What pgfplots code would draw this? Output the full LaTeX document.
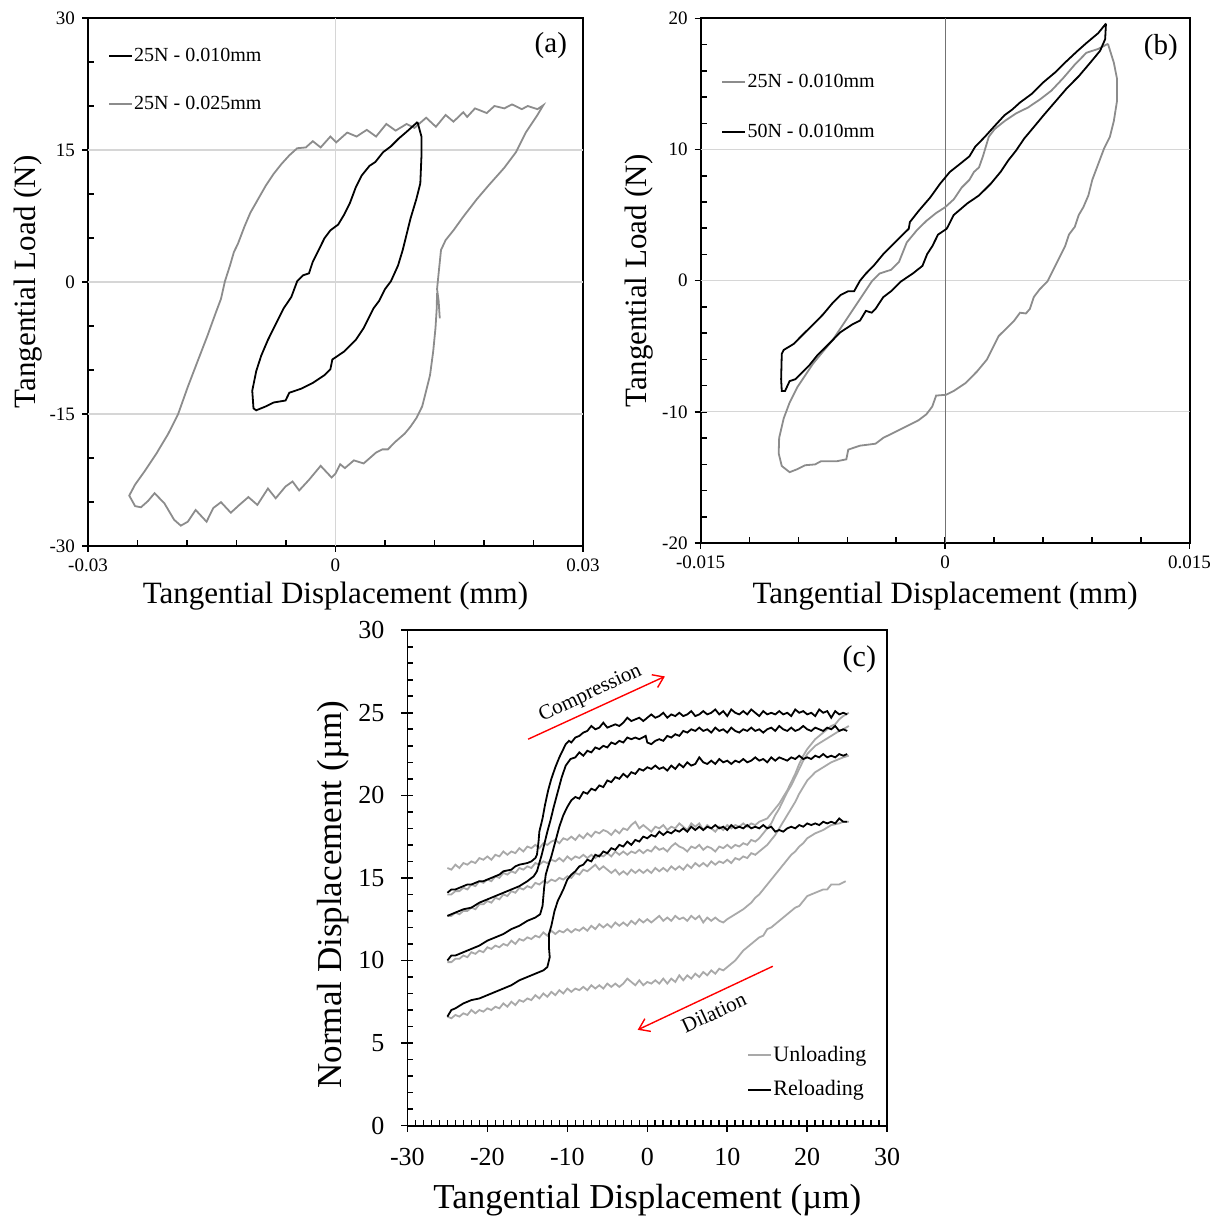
\documentclass[border=0pt]{standalone}
\usepackage{fontspec}
\setmainfont{Liberation Serif}
\usepackage{pgfplots}
\pgfplotsset{compat=1.18}
\usetikzlibrary{arrows.meta}
\definecolor{ga}{HTML}{8C8C8C}
\definecolor{gc}{HTML}{A9A9A9}
\definecolor{gridc}{HTML}{D6D6D6}
\pgfplotsset{
  common/.style={
    scale only axis,
    axis line style={line width=0.9pt},
    tick pos=left,
    tick align=center,
    major tick length=6pt,
    minor tick length=3pt,
    tick style={black, line width=0.8pt},
    minor x tick style={yshift=1.5pt},
    minor y tick style={xshift=1.5pt},
    /pgf/number format/assume math mode=true,
    scaled ticks=false,
    legend cell align=left,
    legend image code/.code={\draw[#1] (0pt,0pt) -- (11.5pt,0pt);},
  }
}
\begin{document}
\begin{tikzpicture}
\useasboundingbox (0,0) rectangle (610pt,610.5pt);
% ---------------- (a)
\begin{axis}[common,
  at={(44pt,337.5pt)}, anchor=south west,
  width=247.5pt, height=264pt,
  xmin=-0.03, xmax=0.03, ymin=-30, ymax=30,
  xtick={-0.03,0,0.03}, xticklabels={-0.03,0,0.03},
  ytick={-30,-15,0,15,30}, yticklabels={-30,-15,0,15,30},
  minor x tick num=4, minor y tick num=2,
  ticklabel style={font=\fontsize{9.5}{11}\selectfont},
  xlabel={Tangential Displacement (mm)},
  ylabel={Tangential Load (N)},
  label style={font=\fontsize{15.5}{18}\selectfont},
  xlabel style={at={(axis description cs:0.5,-0.095)}, anchor=center},
  ylabel style={at={(axis description cs:-0.121,0.5)}, anchor=center},
  legend style={at={(axis description cs:0.04,0.946)}, anchor=north west, draw=none, fill=none,
    font=\fontsize{10}{12}\selectfont, row sep=14.5pt, inner sep=0pt, nodes={inner sep=0.6pt}},
]
\draw[gridc, line width=0.6pt] (axis cs:-0.03,15) -- (axis cs:0.03,15);
\draw[gridc, line width=0.6pt] (axis cs:-0.03,0) -- (axis cs:0.03,0);
\draw[gridc, line width=0.6pt] (axis cs:-0.03,-15) -- (axis cs:0.03,-15);
\draw[gridc, line width=0.6pt] (axis cs:0,-30) -- (axis cs:0,30);
\addlegendimage{black, line width=0.9pt}
\addlegendentry{25N - 0.010mm}
\addlegendimage{ga, line width=0.9pt}
\addlegendentry{25N - 0.025mm}
\addplot[ga, line width=0.9pt, forget plot] coordinates {
(0.01264,-4.13) (0.0125,-2.13) (0.01231,-0.8) (0.0125,0.98) (0.01279,3.64) (0.01335,4.76)
(0.0143,5.87) (0.01549,7.42) (0.01714,9.42) (0.01856,10.98) (0.02046,12.98) (0.02188,14.76)
(0.02306,16.98) (0.02448,18.98) (0.02519,20.09)
(0.02448,19.64) (0.0233,20.0) (0.02259,19.64) (0.0214,20.18) (0.02046,19.73) (0.01927,20.0)
(0.01833,19.2) (0.01691,19.73) (0.01596,18.76) (0.01549,19.29) (0.0143,18.22) (0.01335,18.98)
(0.01217,17.64) (0.01099,18.67) (0.00957,17.51) (0.00862,17.96) (0.00729,17.2) (0.00616,17.96)
(0.00492,16.53) (0.00379,17.29) (0.00256,16.53) (0.00142,16.98) (0.00009,15.87) (-0.00062,16.53)
(-0.0018,15.29) (-0.00275,16.0) (-0.0036,15.29) (-0.00464,15.2) (-0.00559,14.4) (-0.00654,13.42)
(-0.00748,12.31) (-0.00843,10.98) (-0.00938,9.42) (-0.01032,7.87) (-0.01103,6.31) (-0.01184,4.31)
(-0.01231,3.42) (-0.01279,1.87) (-0.0134,0.09) (-0.01388,-1.91) (-0.01459,-3.69) (-0.01553,-6.13)
(-0.01672,-9.02) (-0.0179,-11.91) (-0.01908,-15.02) (-0.02027,-17.24) (-0.02169,-19.47)
(-0.02311,-21.47) (-0.02429,-23.02) (-0.025,-24.27)
(-0.02429,-25.47) (-0.02358,-25.6) (-0.02273,-24.89) (-0.02193,-24.0) (-0.02074,-25.15)
(-0.01956,-27.02) (-0.01875,-27.69) (-0.0179,-27.24) (-0.01695,-25.91) (-0.01563,-27.24)
(-0.01482,-25.69) (-0.01388,-25.02) (-0.01269,-26.22) (-0.01165,-25.33) (-0.01056,-24.44)
(-0.00947,-25.33) (-0.00819,-23.47) (-0.00725,-24.58) (-0.00606,-23.24) (-0.00521,-22.67)
(-0.0044,-23.69) (-0.00322,-22.49) (-0.0018,-20.89) (-0.00047,-22.22) (0,-21.78) (0.00057,-20.71)
(0.00114,-21.15) (0.00223,-20.27) (0.00341,-20.62) (0.00492,-19.38) (0.00568,-19.02)
(0.00635,-19.02) (0.00729,-18.13) (0.00838,-17.24) (0.00909,-16.44) (0.0098,-15.47)
(0.01051,-14.13) (0.01099,-12.36) (0.01146,-10.58) (0.01184,-7.91) (0.01212,-5.24)
(0.01227,-3.02) (0.01231,-1.24)
};
\addplot[black, line width=0.9pt, forget plot] coordinates {
(0.00994,18.18) (0.01042,16.53) (0.01042,14.31) (0.01028,11.2) (0.0098,9.42) (0.00909,7.2)
(0.00862,5.42) (0.00815,3.64) (0.00758,1.87) (0.00672,0.09) (0.00601,-0.8) (0.0053,-2.13)
(0.00459,-3.02) (0.00388,-4.36) (0.00341,-5.24) (0.00246,-6.58) (0.00104,-7.91) (-0.00038,-8.8)
(-0.00062,-9.91) (-0.00133,-10.58) (-0.00275,-11.47) (-0.00417,-12.13) (-0.00559,-12.58)
(-0.00606,-13.47) (-0.00748,-13.69) (-0.00843,-14.13) (-0.00961,-14.58) (-0.00994,-14.36)
(-0.01009,-12.36) (-0.00961,-10.13) (-0.009,-8.36) (-0.00819,-6.58) (-0.00725,-4.8)
(-0.0063,-3.02) (-0.00535,-1.69) (-0.00464,0.09) (-0.00393,0.76) (-0.00322,0.98) (-0.00275,2.31)
(-0.00204,3.64) (-0.00133,4.98) (-0.00062,5.87) (0.00033,6.53) (0.00104,7.64) (0.00175,8.98)
(0.00246,10.76) (0.00317,12.09) (0.00412,13.2) (0.00483,13.64) (0.00578,14.76) (0.00672,15.42)
(0.00767,16.31) (0.00862,17.07) (0.00994,18.18)
};
\node[font=\fontsize{14.5}{16}\selectfont] at (axis description cs:0.935,0.947) {(a)};
\end{axis}
% ---------------- (b)
\begin{axis}[common,
  at={(350.3pt,339pt)}, anchor=south west,
  width=244.5pt, height=262.3pt,
  xmin=-0.015, xmax=0.015, ymin=-20, ymax=20,
  xtick={-0.015,0,0.015}, xticklabels={-0.015,0,0.015},
  ytick={-20,-10,0,10,20}, yticklabels={-20,-10,0,10,20},
  minor x tick num=4, minor y tick num=4,
  ticklabel style={font=\fontsize{9.5}{11}\selectfont},
  xlabel={Tangential Displacement (mm)},
  ylabel={Tangential Load (N)},
  label style={font=\fontsize{15.5}{18}\selectfont},
  xlabel style={at={(axis description cs:0.5,-0.101)}, anchor=center},
  ylabel style={at={(axis description cs:-0.126,0.5)}, anchor=center},
  legend style={at={(axis description cs:0.042,0.897)}, anchor=north west, draw=none, fill=none,
    font=\fontsize{10}{12}\selectfont, row sep=15.5pt, inner sep=0pt, nodes={inner sep=0.6pt}},
]
\draw[gridc, line width=0.6pt] (axis cs:-0.015,10) -- (axis cs:0.015,10);
\draw[gridc, line width=0.6pt] (axis cs:-0.015,0) -- (axis cs:0.015,0);
\draw[gridc, line width=0.6pt] (axis cs:-0.015,-10) -- (axis cs:0.015,-10);
\draw[black!55, line width=0.6pt] (axis cs:0,-20) -- (axis cs:0,20);
\addlegendimage{ga, line width=0.9pt}
\addlegendentry{25N - 0.010mm}
\addlegendimage{black, line width=0.9pt}
\addlegendentry{50N - 0.010mm}
\addplot[ga, line width=0.9pt, forget plot] coordinates {
(0.00999,18.06) (0.01035,16.63) (0.01054,15.44) (0.01054,13.65) (0.01035,12.16) (0.01011,10.97)
(0.00975,10.07) (0.00939,8.88) (0.00903,7.69) (0.00879,6.5) (0.00848,5.6) (0.0082,5.01)
(0.00796,4.11) (0.0076,3.52) (0.00736,2.62) (0.007,1.73) (0.00664,0.83) (0.00628,-0.06)
(0.0058,-0.66) (0.00544,-1.25) (0.0052,-2.15) (0.00496,-2.5) (0.0046,-2.44) (0.00424,-3.04)
(0.00376,-3.64) (0.00328,-4.23) (0.00304,-4.83) (0.00256,-6.02) (0.00196,-6.92) (0.00125,-7.81)
(0.00053,-8.41) (0.00005,-8.7) (-0.00055,-8.76) (-0.00079,-9.6) (-0.00115,-10.19) (-0.00163,-10.64)
(-0.00235,-11.09) (-0.00307,-11.54) (-0.00379,-11.98) (-0.00427,-12.43) (-0.00522,-12.58)
(-0.00594,-12.88) (-0.00606,-13.62) (-0.00666,-13.77) (-0.00762,-13.77) (-0.00798,-14.01)
(-0.00858,-14.07) (-0.00906,-14.37) (-0.00954,-14.6) (-0.01002,-14.13) (-0.01021,-13.17)
(-0.01018,-11.98) (-0.0099,-10.49) (-0.00954,-9.3) (-0.00906,-8.11) (-0.00858,-7.21)
(-0.0081,-6.32) (-0.0075,-5.42) (-0.0069,-4.53) (-0.00642,-3.64) (-0.00594,-2.74) (-0.00546,-1.85)
(-0.00498,-0.95) (-0.0045,-0.06) (-0.00403,0.54) (-0.00367,0.69) (-0.00331,0.83) (-0.00283,1.43)
(-0.00235,2.92) (-0.00175,3.82) (-0.00115,4.56) (-0.00055,5.16) (0,5.6) (0.00053,6.2)
(0.00101,7.09) (0.00149,7.69) (0.00177,8.29) (0.00208,8.64) (0.00232,9.48) (0.00268,10.97)
(0.00304,11.56) (0.00364,12.16) (0.00436,12.76) (0.00508,13.2) (0.0058,13.8) (0.00652,14.49)
(0.00724,15.44) (0.00796,16.48) (0.00867,17.38) (0.00939,17.67) (0.00999,18.06)
};
\addplot[black, line width=0.9pt, forget plot] coordinates {
(0.00987,19.61) (0.00982,18.42) (0.00951,17.53) (0.00891,16.63) (0.0082,15.59) (0.00748,14.69)
(0.00676,13.65) (0.00604,12.61) (0.00544,11.71) (0.00484,10.82) (0.00436,9.93) (0.00388,9.18)
(0.0034,8.29) (0.0028,7.39) (0.00208,6.5) (0.00137,5.9) (0.00053,5.01) (0.0001,3.96)
(-0.00043,3.52) (-0.00079,2.62) (-0.0011,2.03) (-0.00139,1.13) (-0.00199,0.54) (-0.00271,-0.06)
(-0.00331,-0.8) (-0.00379,-1.25) (-0.00427,-2.15) (-0.0045,-2.44) (-0.00486,-2.3) (-0.00522,-3.04)
(-0.0057,-3.34) (-0.00642,-3.93) (-0.00714,-4.83) (-0.00786,-5.72) (-0.00834,-6.47)
(-0.00894,-7.21) (-0.00918,-7.51) (-0.00954,-7.66) (-0.00982,-8.41) (-0.01002,-8.41)
(-0.01006,-7.51) (-0.01002,-5.57) (-0.0099,-5.28) (-0.0093,-4.83) (-0.0087,-4.08) (-0.0081,-3.34)
(-0.0075,-2.59) (-0.0069,-1.7) (-0.00642,-1.1) (-0.00594,-0.8) (-0.00558,-0.8) (-0.00522,0)
(-0.00486,0.54) (-0.00439,1.13) (-0.00379,2.03) (-0.00319,2.77) (-0.00259,3.52) (-0.00223,3.96)
(-0.00216,4.47) (-0.00163,5.31) (-0.00091,6.35) (-0.00031,7.39) (0.00029,8.29) (0.00089,8.88)
(0.00149,9.48) (0.00185,10.22) (0.00244,10.97) (0.00304,11.8) (0.00364,12.61) (0.00412,13.05)
(0.0046,13.59) (0.00532,14.25) (0.00604,15.14) (0.00676,15.89) (0.00736,16.63) (0.00808,17.47)
(0.00867,18.12) (0.00939,18.87) (0.00987,19.61)
};
\node[font=\fontsize{14.5}{16}\selectfont] at (axis description cs:0.941,0.945) {(b)};
\end{axis}
% ---------------- (c)
\begin{axis}[common,
  at={(203.7pt,47.7pt)}, anchor=south west,
  width=239.9pt, height=247.7pt,
  xmin=-30, xmax=30, ymin=0, ymax=30,
  xtick={-30,-20,-10,0,10,20,30}, xticklabels={-30,-20,-10,0,10,20,30},
  ytick={0,5,10,15,20,25,30}, yticklabels={0,5,10,15,20,25,30},
  minor x tick num=9, minor y tick num=4,
  ticklabel style={font=\fontsize{13}{15}\selectfont},
  xticklabel style={yshift=-5pt},
  yticklabel style={xshift=-5pt},
  xlabel={Tangential Displacement (µm)},
  ylabel={Normal Displacement (µm)},
  label style={font=\fontsize{17.5}{20}\selectfont},
  xlabel style={at={(axis description cs:0.5,-0.150)}, anchor=center},
  ylabel style={at={(axis description cs:-0.155,0.466)}, anchor=center},
  legend style={at={(axis description cs:0.708,0.164)}, anchor=north west, draw=none, fill=none,
    font=\fontsize{11}{13}\selectfont, row sep=7pt, inner sep=0pt, nodes={inner sep=0.6pt}},
]
\addlegendimage{gc, line width=0.9pt}
\addlegendentry{Unloading}
\addlegendimage{black, line width=0.9pt}
\addlegendentry{Reloading}
% unloading (gray)
\addplot[gc, line width=0.9pt, forget plot] coordinates {
(25.2,25.0) (24.5,24.8) (24,24.6) (23.5,24.3) (23,24.2) (22,23.8) (21,23.4) (20,22.8) (19.5,22.4)
(19,21.9) (18.5,21.3) (18,20.8) (17.5,20.3) (17,19.9) (16.5,19.5) (16,19.2) (15.5,18.9) (15,18.6)
(14,18.4) (13.5,18.2) (13,18.3) (12.5,18.1) (12,18.3) (11.5,18.1) (11,18.2) (10.5,18.0) (10,18.2)
(9.5,17.9) (9,18.1) (8.5,17.8) (8,18.0) (7.5,18.2) (7,17.9) (6.5,18.3) (6,18.1) (5.5,18.3)
(5,17.9) (4.5,18.1) (4,18.3) (3.5,18.0) (3,18.1) (2.5,17.9) (2,18.2) (1.5,18.0) (1,18.1)
(0.5,17.8) (0,18.0) (-0.5,18.2) (-1,18.0) (-1.5,18.4) (-2,18.2) (-2.5,17.9) (-3,18.0) (-3.5,17.7)
(-4,17.9) (-4.5,17.6) (-5,17.8) (-5.5,17.9) (-6,17.7) (-6.5,17.8) (-7,17.5) (-7.5,17.7) (-8,17.4)
(-8.5,17.6) (-9,17.3) (-9.5,17.5) (-10,17.3) (-10.5,17.4) (-11,17.1) (-11.5,17.3) (-12,17.2)
(-12.5,17.0) (-13,17.1) (-13.5,16.8) (-14,17.0) (-14.5,16.8) (-15,16.9) (-15.5,16.6) (-16,16.8)
(-16.5,16.5) (-17,16.6) (-17.5,16.4) (-18,16.6) (-18.5,16.3) (-19,16.4) (-19.5,16.1) (-20,16.3)
(-20.5,16.1) (-21,16.2) (-21.5,15.9) (-22,16.0) (-22.5,15.8) (-23,15.9) (-23.5,15.6) (-24,15.8)
(-24.5,15.5) (-25,15.6)
};
\addplot[gc, line width=0.9pt, forget plot] coordinates {
(25.2,24.2) (24.5,24.0) (24,23.9) (23,23.6) (22,23.3) (21,23.0) (20,22.5) (19.5,22.1) (19,21.6)
(18.5,21.1) (18,20.6) (17.5,20.2) (17,19.7) (16.5,19.2) (16,18.8) (15.5,18.3) (15,18.0)
(14.5,17.7) (14,17.4) (13.5,17.2) (13,17.3) (12.5,17.0) (12,17.1) (11.5,16.9) (11,17.0)
(10.5,16.8) (10,17.0) (9.5,16.8) (9,16.9) (8.5,16.6) (8,16.8) (7.5,16.9) (7,16.7) (6.5,17.0)
(6,16.8) (5.5,16.9) (5,16.6) (4.5,16.8) (4,16.9) (3.5,17.1) (3,16.9) (2.5,16.6) (2,16.8)
(1.5,16.7) (1,16.9) (0.5,16.6) (0,16.7) (-0.5,16.5) (-1,16.7) (-1.5,16.5) (-2,16.6) (-2.5,16.4)
(-3,16.6) (-3.5,16.4) (-4,16.6) (-4.5,16.3) (-5,16.5) (-5.5,16.3) (-6,16.4) (-6.5,16.2) (-7,16.4)
(-7.5,16.2) (-8,16.4) (-8.5,16.2) (-9,16.3) (-9.5,16.1) (-10,16.3) (-10.5,16.0) (-11,16.2)
(-11.5,16.0) (-12,16.1) (-12.5,15.9) (-13,16.0) (-13.5,15.8) (-14,15.9) (-14.5,15.6) (-15,15.7)
(-15.5,15.5) (-16,15.6) (-16.5,15.3) (-17,15.4) (-17.5,15.2) (-18,15.3) (-18.5,15.0) (-19,15.1)
(-19.5,14.8) (-20,14.9) (-20.5,14.7) (-21,14.8) (-21.5,14.5) (-22,14.6) (-22.5,14.3) (-23,14.4)
(-23.5,14.2) (-24,14.2) (-24.5,14.0) (-25,14.0)
};
\addplot[gc, line width=0.9pt, forget plot] coordinates {
(25.2,22.4) (24.5,22.3) (24,22.2) (23,22.0) (22,21.7) (21,21.4) (20,20.9) (19.5,20.5) (19,20.1)
(18.5,19.6) (18,19.2) (17.5,18.8) (17,18.4) (16.5,18.0) (16,17.6) (15.5,17.3) (15,17.0)
(14,16.6) (13.5,16.4) (13,16.5) (12.5,16.2) (12,16.3) (11.5,16.1) (11,16.2) (10.5,15.9) (10,16.1)
(9.5,15.9) (9,16.0) (8.5,15.8) (8,16.0) (7.5,15.7) (7,15.9) (6.5,15.7) (6,15.9) (5.5,15.6)
(5,15.8) (4.5,15.5) (4,15.7) (3.5,15.5) (3,15.7) (2.5,15.4) (2,15.6) (1.5,15.4) (1,15.6)
(0.5,15.3) (0,15.5) (-0.5,15.3) (-1,15.5) (-1.5,15.3) (-2,15.5) (-2.5,15.2) (-3,15.4) (-3.5,15.2)
(-4,15.5) (-4.5,15.3) (-5,15.5) (-5.5,15.7) (-6,15.5) (-6.5,15.8) (-7,15.6) (-7.5,15.4) (-8,15.5)
(-8.5,15.2) (-9,15.3) (-9.5,15.0) (-10,15.1) (-10.5,14.9) (-11,15.0) (-11.5,14.8) (-12,14.9)
(-12.5,14.7) (-13,14.8) (-13.5,14.6) (-14,14.7) (-14.5,14.4) (-15,14.5) (-15.5,14.3) (-16,14.4)
(-16.5,14.1) (-17,14.2) (-17.5,13.9) (-18,14.0) (-18.5,13.7) (-19,13.8) (-19.5,13.5) (-20,13.6)
(-20.5,13.4) (-21,13.4) (-21.5,13.1) (-22,13.2) (-22.5,13.0) (-23,13.0) (-23.5,12.8) (-24,12.9)
(-24.5,12.7) (-25,12.7)
};
\addplot[gc, line width=0.9pt, forget plot] coordinates {
(25.2,18.4) (24.5,18.4) (24,18.3) (23,18.2) (22,17.9) (21,17.7) (20,17.4) (19.5,17.1) (19,16.9)
(18.5,16.6) (18,16.4) (17.5,16.1) (17,15.8) (16.5,15.5) (16,15.2) (15.5,14.9) (15,14.6)
(14.5,14.3) (14,14.0) (13.5,13.8) (13,13.5) (12,13.1) (11,12.8) (10,12.5) (9.5,12.3) (9,12.4)
(8.5,12.6) (8,12.4) (7.5,12.6) (7,12.3) (6.5,12.7) (6,12.5) (5.5,12.7) (5,12.4) (4.5,12.6)
(4,12.5) (3.5,12.7) (3,12.4) (2.5,12.6) (2,12.4) (1.5,12.7) (1,12.5) (0.5,12.3) (0,12.5)
(-0.5,12.3) (-1,12.5) (-1.5,12.2) (-2,12.4) (-2.5,12.1) (-3,12.3) (-3.5,12.1) (-4,12.3)
(-4.5,12.0) (-5,12.2) (-5.5,12.0) (-6,12.2) (-6.5,11.9) (-7,12.1) (-7.5,11.8) (-8,12.0)
(-8.5,11.8) (-9,11.9) (-9.5,11.7) (-10,11.9) (-10.5,11.7) (-11,11.8) (-11.5,11.6) (-12,11.8)
(-12.5,11.5) (-13,11.7) (-13.5,11.4) (-14,11.5) (-14.5,11.3) (-15,11.4) (-15.5,11.2) (-16,11.3)
(-16.5,11.0) (-17,11.2) (-17.5,10.9) (-18,11.0) (-18.5,10.8) (-19,10.9) (-19.5,10.7) (-20,10.8)
(-20.5,10.5) (-21,10.6) (-21.5,10.4) (-22,10.5) (-22.5,10.2) (-23,10.3) (-23.5,10.1) (-24,10.1)
(-24.5,9.9) (-25,9.9)
};
\addplot[gc, line width=0.9pt, forget plot] coordinates {
(24.8,14.8) (24,14.6) (23,14.6) (22.5,14.3) (22,14.3) (21,14.1) (20,13.9) (19.5,13.6) (19,13.3)
(18.5,13.2) (18,13.0) (17.5,12.8) (17,12.6) (16.5,12.4) (16,12.2) (15.5,12.0) (15,11.9)
(14.5,11.5) (14,11.4) (13.5,11.2) (13,11.0) (12.5,10.8) (12,10.6) (11.5,10.3) (11,10.0)
(10.5,9.8) (10,9.6) (9.5,9.4) (9,9.5) (8.5,9.2) (8,9.4) (7.5,9.1) (7,9.3) (6.5,9.0) (6,9.2)
(5.5,8.9) (5,9.1) (4.5,8.8) (4,9.1) (3.5,8.7) (3,8.9) (2.5,8.6) (2,8.9) (1.5,8.6) (1,8.8)
(0.5,8.6) (0,8.7) (-0.5,8.5) (-1,8.8) (-1.5,8.5) (-2,8.7) (-2.5,8.9) (-3,8.6) (-3.5,8.4) (-4,8.6)
(-4.5,8.4) (-5,8.6) (-5.5,8.3) (-6,8.5) (-6.5,8.3) (-7,8.5) (-7.5,8.2) (-8,8.4) (-8.5,8.2)
(-9,8.3) (-9.5,8.1) (-10,8.3) (-10.5,8.0) (-11,8.2) (-11.5,7.9) (-12,8.1) (-12.5,7.8) (-13,8.0)
(-13.5,7.7) (-14,7.9) (-14.5,7.6) (-15,7.7) (-15.5,7.5) (-16,7.6) (-16.5,7.3) (-17,7.5)
(-17.5,7.2) (-18,7.4) (-18.5,7.1) (-19,7.2) (-19.5,7.0) (-20,7.1) (-20.5,6.9) (-21,7.0)
(-21.5,6.8) (-22,7.0) (-22.5,6.7) (-23,6.8) (-23.5,6.6) (-24,6.7) (-24.5,6.5) (-25,6.6)
};
% reloading (black)
\addplot[black, line width=0.9pt, forget plot] coordinates {
(-25,14.1) (-24.5,14.3) (-24,14.3) (-23,14.5) (-22.5,14.6) (-22,14.6) (-21,14.8) (-20.5,14.8)
(-20,14.9) (-19,15.1) (-18.5,15.2) (-18,15.4) (-17,15.5) (-16.5,15.7) (-16,15.8) (-15,15.9)
(-14.5,16.0) (-14,16.2) (-13.8,16.4) (-13.6,17.2) (-13.5,17.8) (-13.3,18.2) (-13.1,18.6)
(-12.8,19.4) (-12.4,20.3) (-12,21.0) (-11.5,21.7) (-11,22.3) (-10.5,22.8) (-10.2,23.1)
(-9.8,23.3) (-9.5,23.2) (-9,23.5) (-8.5,23.6) (-8,23.8) (-7.5,23.9) (-7,24.2) (-6.5,24.0)
(-6,24.1) (-5.5,24.4) (-5,24.1) (-4.5,24.2) (-4,24.3) (-3.5,24.2) (-3,24.4) (-2.5,24.7)
(-2,24.5) (-1.5,24.6) (-1,24.7) (-0.5,24.5) (0,24.7) (0.5,24.9) (1,24.7) (1.5,24.8) (2,25.0)
(2.5,24.7) (3,24.9) (3.5,24.8) (4,25.0) (4.5,24.8) (5,24.9) (5.5,25.1) (6,24.8) (6.5,24.9)
(7,25.1) (7.5,24.9) (8,25.0) (8.5,25.2) (9,24.9) (9.5,25.1) (10,24.8) (10.5,25.2) (11,25.0)
(11.5,24.9) (12,25.1) (12.5,24.9) (13,25.2) (13.5,25.0) (14,24.8) (14.5,25.1) (15,24.9)
(15.5,25.0) (16,24.9) (16.5,25.1) (17,24.9) (17.5,25.0) (18,24.8) (18.5,25.2) (19,25.0)
(19.5,25.1) (20,24.9) (20.5,25.0) (21,24.8) (21.5,25.2) (22,25.0) (22.5,25.1) (23,24.7)
(23.5,25.1) (24,24.9) (24.5,25.0) (25,24.9)
};
\addplot[black, line width=0.9pt, forget plot] coordinates {
(-25,12.7) (-24,12.9) (-23,13.1) (-22,13.2) (-21,13.5) (-20,13.7) (-19,13.9) (-18,14.1)
(-17,14.3) (-16,14.5) (-15,14.8) (-14.2,15.1) (-13.8,15.4) (-13.5,15.9) (-13.2,16.4)
(-12.9,17.0) (-12.5,17.8) (-12.1,18.5) (-11.7,19.3) (-11.2,20.2) (-10.7,21.1) (-10.2,21.8)
(-9.6,22.2) (-9,22.3) (-8.5,22.6) (-8,22.4) (-7.5,22.7) (-7,22.6) (-6.5,22.9) (-6,22.8)
(-5.5,23.0) (-5,22.9) (-4.5,23.2) (-4,23.1) (-3.5,23.3) (-3,23.2) (-2.5,23.5) (-2,23.4)
(-1.5,23.5) (-1,23.4) (-0.2,23.6) (0,23.2) (0.5,23.1) (1,23.3) (1.5,23.4) (2,23.3) (2.5,23.6)
(3,23.5) (3.5,23.7) (4,23.6) (4.5,23.9) (5,23.8) (5.5,24.0) (6,23.9) (6.5,24.1) (7,23.9)
(7.5,24.0) (8,23.8) (8.5,24.1) (9,23.9) (9.5,24.0) (10,23.8) (10.5,24.1) (11,23.9) (11.5,23.8)
(12,24.0) (12.5,23.9) (13,24.1) (13.5,23.9) (14,24.0) (14.5,23.8) (15,24.0) (15.5,24.1)
(16,23.9) (16.5,24.2) (17,24.0) (17.5,23.9) (18,24.1) (18.5,23.9) (19,24.0) (19.5,24.2)
(20,24.0) (20.5,23.9) (21,24.1) (21.5,24.0) (22,23.9) (22.5,24.1) (23,24.0) (23.5,24.2)
(24,23.9) (24.5,24.0) (25,23.9)
};
\addplot[black, line width=0.9pt, forget plot] coordinates {
(-25,10.0) (-24.5,10.3) (-24,10.3) (-23,10.5) (-22,10.7) (-21,10.9) (-20,11.2) (-19,11.4)
(-18,11.6) (-17,11.9) (-16,12.1) (-15,12.4) (-14,12.6) (-13.4,12.8) (-13.1,13.3) (-12.9,14.4)
(-12.7,15.2) (-12.4,15.7) (-12,16.3) (-11.5,17.2) (-11,18.1) (-10.5,18.8) (-10,19.3)
(-9.5,19.7) (-9,19.9) (-8.5,19.8) (-8,20.2) (-7.5,20.1) (-7,20.4) (-6.5,20.3) (-6,20.6)
(-5.5,20.5) (-5,20.9) (-4.5,20.8) (-4,21.1) (-3.5,21.0) (-3,21.3) (-2.5,21.1) (-2,21.4)
(-1.5,21.3) (-1,21.6) (-0.5,21.5) (0,21.7) (0.5,21.6) (1,21.8) (1.5,21.6) (2,21.7) (2.5,21.5)
(3,21.8) (3.5,21.6) (4,21.9) (4.5,21.7) (5,22.0) (5.5,21.8) (6,21.9) (6.5,22.3) (7,22.0)
(7.5,21.9) (8,22.1) (8.5,21.9) (9,22.2) (9.5,22.0) (10,22.1) (10.5,21.9) (11,22.1) (11.5,22.0)
(12,22.2) (12.5,22.0) (13,22.1) (13.5,22.3) (14,22.1) (14.5,22.2) (15,22.0) (15.5,22.3)
(16,22.1) (16.5,22.3) (17,22.2) (17.5,22.1) (18,22.3) (18.5,22.2) (19,22.4) (19.5,22.2)
(20,22.3) (20.5,22.2) (21,22.4) (21.5,22.3) (22,22.5) (22.5,22.3) (23,22.4) (23.5,22.3)
(24,22.5) (24.5,22.4) (25,22.5)
};
\addplot[black, line width=0.9pt, forget plot] coordinates {
(-25,6.6) (-24.5,7.0) (-24,7.1) (-23,7.4) (-22,7.6) (-21,7.7) (-20,7.9) (-19,8.1) (-18,8.3)
(-17,8.5) (-16,8.8) (-15,9.0) (-14,9.2) (-13,9.4) (-12.5,9.6) (-12.2,10.2) (-12.3,10.8)
(-12.3,11.6) (-12.0,12.1) (-11.6,13.0) (-11.2,13.6) (-10.5,14.3) (-10,14.9) (-9.5,15.2)
(-9,15.4) (-8.5,15.7) (-8,15.8) (-7.5,16.1) (-7,16.0) (-6.5,16.4) (-6,16.3) (-5.5,16.6)
(-5,16.5) (-4.5,16.8) (-4,16.7) (-3.5,17.0) (-3,16.9) (-2.5,17.2) (-2,17.0) (-1.5,17.3)
(-1,17.2) (-0.5,17.5) (0,17.4) (0.5,17.6) (1,17.5) (1.5,17.8) (2,17.6) (2.5,17.8) (3,17.7)
(3.5,17.9) (4,17.8) (4.5,18.0) (5,17.8) (5.5,18.1) (6,17.9) (6.5,18.1) (7,17.9) (7.5,18.1)
(8,18.0) (8.5,18.2) (9,18.0) (9.5,18.1) (10,17.9) (10.5,18.2) (11,18.0) (11.5,18.1) (12,18.0)
(12.5,18.2) (13,18.0) (13.5,18.1) (14,18.0) (14.5,18.2) (15,18.0) (15.5,18.1) (16,17.8)
(16.5,17.9) (17,17.8) (17.5,18.0) (18,18.1) (18.5,18.0) (19,18.2) (19.5,18.1) (20,18.3)
(20.5,18.2) (21,18.3) (21.5,18.2) (22,18.4) (22.5,18.3) (23,18.4) (23.5,18.3) (24,18.6)
(24.5,18.4) (25,18.4)
};
\draw[red, line width=0.7pt, -{Straight Barb[length=5pt,width=7pt]}] (axis cs:-14.9,23.4) -- (axis cs:2.2,27.2);
\node[rotate=25, font=\fontsize{10.5}{12}\selectfont] at (axis cs:-7.1,26.15) {Compression};
\draw[red, line width=0.7pt, -{Straight Barb[length=5pt,width=7pt]}] (axis cs:15.7,9.65) -- (axis cs:-1.2,5.8);
\node[rotate=25, font=\fontsize{10.5}{12}\selectfont] at (axis cs:8.3,6.86) {Dilation};
\node[font=\fontsize{15}{17}\selectfont] at (axis description cs:0.942,0.942) {(c)};
\end{axis}
\end{tikzpicture}
\end{document}
